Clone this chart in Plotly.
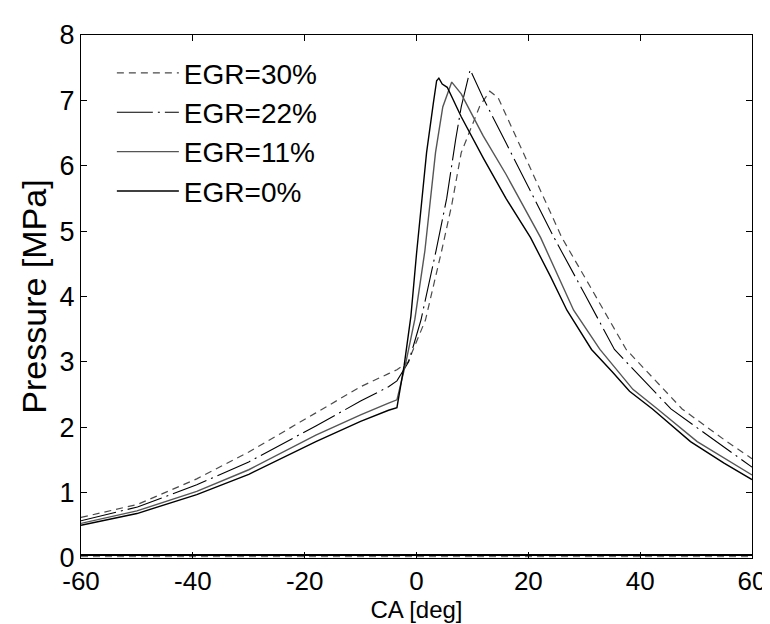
import plotly.graph_objects as go

# crank angle [deg] / cylinder pressure [MPa]
ca_egr0 = [-60, -50, -39.3, -30, -18, -10, -5, -3.5, -2.2, -1, 0, 1.8, 3, 3.6, 4, 4.6, 5.5, 8, 12, 16, 20.4, 24, 26.9, 31.3, 35, 38.1, 42.2, 49, 55, 60]
p_egr0 = [0.50, 0.68, 0.97, 1.28, 1.78, 2.09, 2.26, 2.30, 2.95, 3.70, 4.65, 6.20, 6.95, 7.30, 7.34, 7.25, 7.20, 6.75, 6.11, 5.50, 4.90, 4.30, 3.79, 3.19, 2.85, 2.55, 2.28, 1.78, 1.45, 1.20]

ca_egr11 = [-60, -50, -39.3, -30, -18, -10, -5, -3.5, -2, -0.3, 1.5, 3.4, 4.7, 6.3, 8, 11.9, 16, 22.2, 28.1, 32.8, 38.7, 43.1, 50.2, 55, 60]
p_egr11 = [0.53, 0.72, 1.02, 1.35, 1.88, 2.19, 2.37, 2.42, 2.95, 3.65, 4.70, 6.20, 6.90, 7.28, 7.10, 6.46, 5.87, 4.90, 3.79, 3.19, 2.58, 2.28, 1.78, 1.53, 1.27]

ca_egr22 = [-60, -49.9, -39.3, -30, -18, -10, -5, -3.5, -1.4, 0.8, 3.5, 5.4, 7, 8, 9.6, 11.9, 16, 24.6, 30, 35.4, 45.5, 53.7, 60]
p_egr22 = [0.57, 0.78, 1.12, 1.47, 2.02, 2.40, 2.62, 2.71, 3.00, 3.64, 4.70, 5.50, 6.40, 6.90, 7.47, 7.04, 6.35, 4.90, 4.05, 3.19, 2.28, 1.78, 1.39]

ca_egr30 = [-60, -49.9, -39.3, -30, -18, -10, -5, -3.5, -1.5, 1.6, 4.5, 6.3, 8, 11.3, 13.1, 14.6, 20, 26, 31, 37.5, 47.5, 55.5, 60]
p_egr30 = [0.62, 0.82, 1.21, 1.62, 2.22, 2.62, 2.82, 2.88, 3.00, 3.64, 4.70, 5.40, 6.20, 6.91, 7.14, 7.04, 6.03, 4.90, 4.16, 3.19, 2.28, 1.78, 1.52]

# flat traces lying on the x axis
base_ca = [-60, 60]
base_solid = [0.045, 0.045]
base_dash = [0.02, 0.02]

x_ticks = [-60, -40, -20, 0, 20, 40, 60]
x_labels = ["-60", "-40", "-20", "0", "20", "40", "60"]
y_ticks = [0, 1, 2, 3, 4, 5, 6, 7, 8]

fig = go.Figure()

fig.add_trace(go.Scatter(x=ca_egr30, y=p_egr30, mode="lines", name="EGR=30%",
                         line=dict(color="#4a4a4a", width=1.2, dash="7px,5px")))
fig.add_trace(go.Scatter(x=ca_egr22, y=p_egr22, mode="lines", name="EGR=22%",
                         line=dict(color="black", width=1.1, dash="36px,5px,2px,5px")))
fig.add_trace(go.Scatter(x=ca_egr11, y=p_egr11, mode="lines", name="EGR=11%",
                         line=dict(color="#555555", width=1.4)))
fig.add_trace(go.Scatter(x=ca_egr0, y=p_egr0, mode="lines", name="EGR=0%",
                         line=dict(color="black", width=1.4)))

fig.add_trace(go.Scatter(x=base_ca, y=base_solid, mode="lines", showlegend=False,
                         line=dict(color="black", width=2)))
fig.add_trace(go.Scatter(x=base_ca, y=base_dash, mode="lines", showlegend=False,
                         line=dict(color="#555555", width=1, dash="7px,5px")))

font_family = "Liberation Sans, Arial, sans-serif"

fig.update_layout(
    width=770, height=624,
    margin=dict(l=73, r=18, t=23, b=74),
    paper_bgcolor="white", plot_bgcolor="white",
    font=dict(family=font_family, size=26, color="black"),
    showlegend=True,
    legend=dict(x=0.046, y=0.975, xanchor="left", yanchor="top",
                bgcolor="rgba(0,0,0,0)", itemwidth=62, tracegroupgap=0,
                font=dict(family=font_family, size=28, color="black")),
)

fig.update_xaxes(range=[-60, 60], tickvals=x_ticks, ticktext=x_labels,
                 ticks="inside", ticklen=6, tickcolor="black",
                 tickfont=dict(size=26), ticklabelstandoff=0,
                 showline=True, linecolor="black", linewidth=1,
                 mirror="ticks", showgrid=False, zeroline=False,
                 title=dict(text="CA [deg]", font=dict(size=24), standoff=0))
fig.update_yaxes(range=[0, 8], tickvals=y_ticks, ticks="inside", ticklen=6,
                 tickcolor="black", tickfont=dict(size=27),
                 showline=True, linecolor="black", linewidth=1,
                 mirror="ticks", showgrid=False, zeroline=False,
                 title=dict(text="Pressure [MPa]", font=dict(size=34), standoff=2))

fig.write_html("out.html")
